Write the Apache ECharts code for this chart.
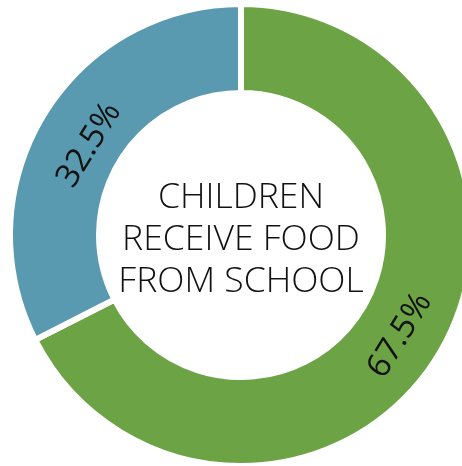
<!DOCTYPE html>
<html>
<head>
<meta charset="utf-8">
<script src="https://cdn.jsdelivr.net/npm/echarts@6/dist/echarts.min.js"></script>
<style>
  html, body { margin: 0; padding: 0; background: #ffffff; }
  #chart { width: 462px; height: 466px; }
</style>
</head>
<body>
<div id="chart"></div>
<script>
// Share of children who receive food from school
const categories = ['Yes', 'No'];
const shares = [67.5, 32.5];
const sliceColors = ['#6ca344', '#5a9ab1'];
const centerTitle = 'CHILDREN\nRECEIVE FOOD\nFROM SCHOOL';

const pieCenter = [241, 235];
// small [dx, dy] nudges for the percentage labels (in the label's own rotated frame)
const labelNudge = [[-2.5, -1.5], [-2.5, 13]];

const chart = echarts.init(document.getElementById('chart'), null, { renderer: 'canvas' });

const fontStack = '"Open Sans", "Segoe UI", "DejaVu Sans", sans-serif';

chart.setOption({
  animation: false,
  backgroundColor: '#ffffff',
  graphic: [{
    type: 'text',
    style: {
      text: centerTitle,
      x: pieCenter[0],
      y: 240,
      textAlign: 'center',
      textVerticalAlign: 'middle',
      font: '300 35.5px ' + fontStack,
      lineHeight: 42,
      fill: '#111111'
    }
  }],
  series: [{
    type: 'pie',
    center: pieCenter,
    radius: [142, 231],
    startAngle: 90,
    clockwise: true,
    avoidLabelOverlap: false,
    itemStyle: { borderColor: '#ffffff', borderWidth: 6 },
    label: {
      show: true,
      position: 'inside',
      rotate: 'tangential',
      formatter: p => p.value.toFixed(1) + '%',
      fontFamily: fontStack,
      fontWeight: 400,
      fontSize: 33,
      color: '#111111'
    },
    labelLayout: function (p) {
      const n = labelNudge[p.dataIndex] || [0, 0];
      return { dx: n[0], dy: n[1] };
    },
    labelLine: { show: false },
    emphasis: { disabled: true },
    data: categories.map((name, i) => ({
      name,
      value: shares[i],
      itemStyle: { color: sliceColors[i] }
    }))
  }]
});
</script>
</body>
</html>
